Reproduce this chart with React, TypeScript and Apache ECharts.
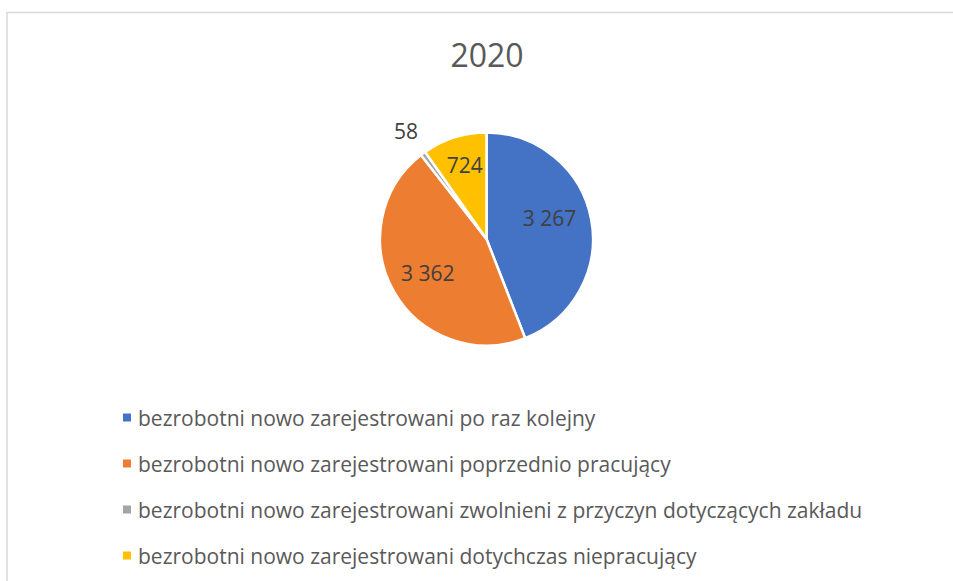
import React, { useEffect, useRef } from "react";
import * as echarts from "echarts";

const titleText = "2020";
const categories = [
  "bezrobotni nowo zarejestrowani po raz kolejny",
  "bezrobotni nowo zarejestrowani poprzednio pracujący",
  "bezrobotni nowo zarejestrowani zwolnieni z przyczyn dotyczących zakładu",
  "bezrobotni nowo zarejestrowani dotychczas niepracujący",
];
const values = [3267, 3362, 58, 724];
const colors = ["#4472C4", "#ED7D31", "#A5A5A5", "#FFC000"];
const outsideLabel = [false, false, true, false];

const fmt = (v: number) => {
  const s = String(Math.round(v));
  return s.replace(/\B(?=(\d{3})+(?!\d))/g, " ");
};

export default function App() {
  const ref = useRef<HTMLDivElement>(null);
  useEffect(() => {
    document.body.style.margin = "0";
    const chart = echarts.init(ref.current!, undefined, { renderer: "svg" });
    const R = 106.5;
    const center = [486.5, 239];
    const font = "'Open Sans', sans-serif";
    const labelOffsets: number[][] = [[-8, -8], [4, -2], [0, 0], [0, -5]];
    const baseData = categories.map((name, i) => ({
      name,
      value: values[i],
      itemStyle: { color: colors[i] },
    }));
    const labelData = baseData.map((d, i) => ({
      name: d.name,
      value: d.value,
      itemStyle: { color: "rgba(0,0,0,0)" },
      label: { offset: labelOffsets[i] },
    }));
    chart.setOption({
      animation: false,
      backgroundColor: "#ffffff",
      title: {
        text: titleText,
        left: 482,
        textAlign: "center",
        top: 33,
        textStyle: { fontFamily: font, fontSize: 32, fontWeight: "normal", color: "#595959" },
      },
      graphic: [
        {
          type: "rect",
          shape: { x: 7, y: 12.5, width: 1200, height: 1200 },
          style: { fill: "none", stroke: "#d9d9d9", lineWidth: 1.5 },
          silent: true,
        },
      ],
      legend: {
        orient: "vertical",
        left: 116,
        top: 402,
        icon: "rect",
        itemWidth: 10,
        itemHeight: 10,
        itemGap: 25,
        data: categories,
        selectedMode: false,
        textStyle: {
          fontFamily: font,
          fontSize: 21,
          color: "#595959",
          lineHeight: 20.5,
          padding: [0, 0, 0, 1],
        },
      },
      series: [
        {
          type: "pie",
          center,
          radius: [0, R],
          startAngle: 90,
          clockwise: true,
          itemStyle: { borderColor: "#ffffff", borderWidth: 2.5 },
          label: { show: false },
          labelLine: { show: false },
          data: baseData,
          silent: true,
        },
        {
          type: "pie",
          center,
          radius: [0, R * 1.3],
          startAngle: 90,
          clockwise: true,
          silent: true,
          itemStyle: { color: "rgba(0,0,0,0)", borderWidth: 0 },
          label: {
            show: true,
            position: "inside",
            fontFamily: font,
            fontSize: 21,
            color: "#404040",
            formatter: (p: any) => (outsideLabel[p.dataIndex] ? "" : fmt(p.value)),
          },
          labelLine: { show: false },
          data: labelData,
        },
        {
          type: "pie",
          center,
          radius: [R, R * 1.48],
          startAngle: 90,
          clockwise: true,
          silent: true,
          itemStyle: { color: "rgba(0,0,0,0)", borderWidth: 0 },
          label: {
            show: true,
            position: "inside",
            fontFamily: font,
            fontSize: 21,
            color: "#404040",
            formatter: (p: any) => (outsideLabel[p.dataIndex] ? fmt(p.value) : ""),
          },
          labelLine: { show: false },
          data: baseData.map((d) => ({ name: d.name, value: d.value, itemStyle: { color: "rgba(0,0,0,0)" } })),
        },
      ],
    });
    return () => chart.dispose();
  }, []);
  return <div ref={ref} style={{ position: "fixed", left: 0, top: 0, width: 953, height: 581 }} />;
}
